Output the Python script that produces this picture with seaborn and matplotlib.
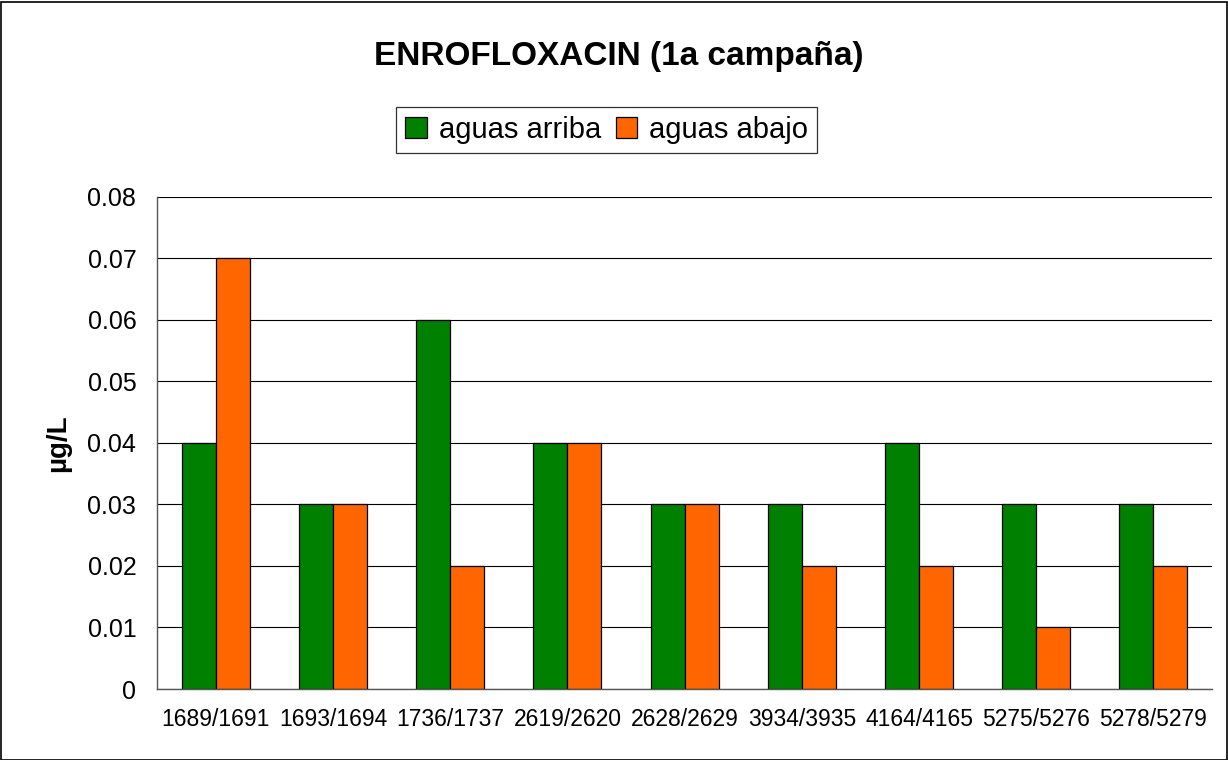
import pandas as pd
import numpy as np
import matplotlib.pyplot as plt
import matplotlib.patches as mpatches
from matplotlib.ticker import FixedLocator, FuncFormatter
import seaborn as sns

# data
sites = ['1689/1691', '1693/1694', '1736/1737', '2619/2620', '2628/2629',
         '3934/3935', '4164/4165', '5275/5276', '5278/5279']
aguas_arriba = [0.04, 0.03, 0.06, 0.04, 0.03, 0.03, 0.04, 0.03, 0.03]
aguas_abajo = [0.07, 0.03, 0.02, 0.04, 0.03, 0.02, 0.02, 0.01, 0.02]
series_names = ['aguas arriba', 'aguas abajo']
y_ticks = [0, 0.01, 0.02, 0.03, 0.04, 0.05, 0.06, 0.07, 0.08]

df = pd.DataFrame({
    'site': sites * 2,
    'value': aguas_arriba + aguas_abajo,
    'serie': [series_names[0]] * len(sites) + [series_names[1]] * len(sites),
})

sns.set_style('white')
plt.rcParams['font.family'] = ['Liberation Sans', 'DejaVu Sans']
plt.rcParams['text.color'] = 'black'
plt.rcParams['axes.labelcolor'] = 'black'
plt.rcParams['xtick.color'] = 'black'
plt.rcParams['ytick.color'] = 'black'

fig = plt.figure(figsize=(12.28, 7.6), dpi=100)
ax = fig.add_axes([0.128, 0.0934, 0.859, 0.648])

sns.barplot(data=df, x='site', y='value', hue='serie', ax=ax,
            palette={'aguas arriba': '#008000', 'aguas abajo': '#FF6600'},
            width=0.58, edgecolor='black', linewidth=0.9, saturation=1)

ax.set_ylim(0, 0.08)
ax.set_xlim(-0.5, len(sites) - 0.5)
ax.yaxis.set_major_locator(FixedLocator(y_ticks))
ax.yaxis.set_major_formatter(FuncFormatter(lambda v, p: '0' if v == 0 else f'{v:.2f}'))
ax.grid(axis='y', color='black', linewidth=0.8)
ax.set_axisbelow(True)
for s in ['top', 'right']:
    ax.spines[s].set_visible(False)
for s in ['left', 'bottom']:
    ax.spines[s].set_color('#555555')
    ax.spines[s].set_linewidth(1)

ax.tick_params(axis='y', which='major', direction='out', length=6, color='#555555',
               labelsize=18, pad=9)
ax.tick_params(axis='x', which='major', length=0, labelsize=16.5, pad=14)
ax.set_xticks(np.arange(-0.5, len(sites), 1.0), minor=True)
ax.tick_params(axis='x', which='minor', direction='out', length=4, color='#555555')

ax.set_xlabel('')
ax.set_ylabel('µg/L', fontsize=20, fontweight='bold')
ax.yaxis.set_label_coords(-0.0815, 0.5)

fig.text(0.504, 0.926, 'ENROFLOXACIN (1a campaña)', ha='center', va='center',
         fontsize=24, fontweight='bold')

handles, labels = ax.get_legend_handles_labels()
ax.legend_.remove()
leg = fig.legend(handles, labels, loc='center', bbox_to_anchor=(0.494, 0.829), ncol=2,
                 frameon=True, fancybox=False, edgecolor='black', fontsize=21,
                 handlelength=0.75, handleheight=0.75, handletextpad=0.4,
                 columnspacing=0.5, borderpad=0.3)
leg.get_frame().set_linewidth(0.9)

fig.patches.append(mpatches.Rectangle((0.001, 0.0), 0.998, 0.998, transform=fig.transFigure,
                                      fill=False, edgecolor='black', linewidth=1.2))

fig.savefig('out.png', dpi=100)
